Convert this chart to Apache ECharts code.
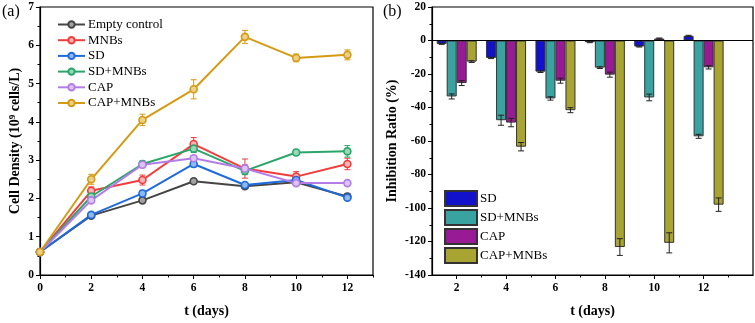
<!DOCTYPE html>
<html>
<head>
<meta charset="utf-8">
<script src="https://cdn.jsdelivr.net/npm/echarts@6/dist/echarts.min.js"></script>
<style>
  html, body { margin: 0; padding: 0; background: #fff; }
  #chart { width: 755px; height: 323px; }
</style>
</head>
<body>
<div id="chart"></div>
<script>
// (a) cell density over time
var days = [0, 2, 4, 6, 8, 10, 12];
var lineNames = ["Empty control", "MNBs", "SD", "SD+MNBs", "CAP", "CAP+MNBs"];
var lineColors = ["#454545", "#f03c3c", "#1f6bdc", "#2aa66a", "#b57ce8", "#d49a12"];
var lineFills = ["#a0a0a0", "#f8b4b4", "#8fb8f0", "#98d8b8", "#dcc4f6", "#ecd08a"];
var emptyControl = [0.6, 1.55, 1.95, 2.45, 2.32, 2.42, 2.05];
var mnbs = [0.6, 2.2, 2.48, 3.42, 2.78, 2.57, 2.9];
var sd = [0.6, 1.57, 2.13, 2.9, 2.35, 2.48, 2.02];
var sdMnbs = [0.6, 2.05, 2.9, 3.3, 2.72, 3.2, 3.23];
var cap = [0.6, 1.95, 2.88, 3.05, 2.78, 2.4, 2.4];
var capMnbs = [0.6, 2.5, 4.05, 4.85, 6.22, 5.67, 5.75];
var emptyControlErr = [0.02, 0.05, 0.07, 0.05, 0.05, 0.05, 0.08];
var mnbsErr = [0.02, 0.1, 0.13, 0.17, 0.25, 0.13, 0.15];
var sdErr = [0.02, 0.05, 0.08, 0.08, 0.06, 0.05, 0.05];
var sdMnbsErr = [0.02, 0.08, 0.08, 0.1, 0.1, 0.08, 0.15];
var capErr = [0.02, 0.06, 0.08, 0.07, 0.1, 0.06, 0.04];
var capMnbsErr = [0.02, 0.13, 0.15, 0.25, 0.17, 0.1, 0.13];

// (b) inhibition ratio
var barDays = [2, 4, 6, 8, 10, 12];
var barNames = ["SD", "SD+MNBs", "CAP", "CAP+MNBs"];
var barColors = ["#1212cc", "#38a3a1", "#981a94", "#a8a432"];
var sdInh = [-2, -10.4, -18.6, -1, -3.6, 2.8];
var sdMnbsInh = [-33.4, -47.6, -34.6, -16.2, -34, -57.2];
var capInh = [-25.4, -49, -24, -20.4, 1.2, -16];
var capMnbsInh = [-12.6, -63.4, -41.6, -123.3, -120.8, -98];
var sdInhErr = [0.3, 0.4, 0.5, 0.3, 0.3, 0.3];
var sdMnbsInhErr = [1.5, 3, 1, 0.5, 2, 1.2];
var capInhErr = [1.5, 2.5, 1.5, 1.5, 0.3, 1];
var capMnbsInhErr = [0.5, 2.5, 1.5, 5, 6, 4];

var xEvenLeft = [0, 2, 4, 6, 8, 10, 12];
var xOddLeft = [1, 3, 5, 7, 9, 11, 13];
var xEvenRight = [2, 4, 6, 8, 10, 12];
var xOddRight = [3, 5, 7, 9, 11, 13];

var lineValues = [emptyControl, mnbs, sd, sdMnbs, cap, capMnbs];
var lineErrs = [emptyControlErr, mnbsErr, sdErr, sdMnbsErr, capErr, capMnbsErr];
var barValues = [sdInh, sdMnbsInh, capInh, capMnbsInh];
var barErrs = [sdInhErr, sdMnbsInhErr, capInhErr, capMnbsInhErr];

var serif = "Liberation Serif";
var BAR_W = 10;

function errorBars(xs, ys, errs, color, axisIdx, offsetPx) {
  return {
    type: "custom",
    xAxisIndex: axisIdx,
    yAxisIndex: axisIdx,
    silent: true,
    z: 4,
    data: xs.map(function(x, i) {
      return [x, ys[i] - errs[i], ys[i] + errs[i]];
    }),
    renderItem: function(params, api) {
      var lo = api.coord([api.value(0), api.value(1)]);
      var hi = api.coord([api.value(0), api.value(2)]);
      var x = lo[0] + offsetPx;
      var w = 3;
      var style = { stroke: color, lineWidth: 1 };
      return {
        type: "group",
        children: [
          { type: "line", shape: { x1: x, y1: lo[1], x2: x, y2: hi[1] }, style: style },
          { type: "line", shape: { x1: x - w, y1: lo[1], x2: x + w, y2: lo[1] }, style: style },
          { type: "line", shape: { x1: x - w, y1: hi[1], x2: x + w, y2: hi[1] }, style: style }
        ]
      };
    }
  };
}

function xAxisPair(gridIndex, min, max, evens, odds) {
  var labelStyle = { fontFamily: serif, fontWeight: "bold", fontSize: 11.5, color: "#000", margin: 7 };
  return [
    {
      type: "value", gridIndex: gridIndex, min: min, max: max, interval: 1,
      name: "t (days)", nameLocation: "middle", nameGap: 29,
      nameTextStyle: { fontFamily: serif, fontWeight: "bold", fontSize: 14, color: "#000" },
      axisLine: { onZero: false, lineStyle: { color: "#000", width: 1.2 } },
      axisTick: { customValues: evens, length: 4, lineStyle: { color: "#000", width: 1 } },
      axisLabel: Object.assign({ customValues: evens }, labelStyle),
      splitLine: { show: false }
    },
    {
      type: "value", gridIndex: gridIndex, min: min, max: max, interval: 1, position: "bottom",
      axisLine: { show: false, onZero: false },
      axisTick: { customValues: odds, length: 2.5, lineStyle: { color: "#000", width: 1 } },
      axisLabel: { show: false },
      splitLine: { show: false }
    }
  ];
}

var xAxes = xAxisPair(0, 0, 13, xEvenLeft, xOddLeft).concat(xAxisPair(1, 1, 14, xEvenRight, xOddRight));

function yAxis(gridIndex, min, max, interval, name, gap) {
  return {
    type: "value", gridIndex: gridIndex, min: min, max: max, interval: interval,
    name: name, nameLocation: "middle", nameGap: gap,
    nameTextStyle: {
      fontFamily: serif, fontWeight: "bold", fontSize: 14, color: "#000",
      rich: { sup: { fontFamily: serif, fontWeight: "bold", fontSize: 9, verticalAlign: "top", padding: [0, 0, 6, 0] } }
    },
    axisLine: { show: true, onZero: false, lineStyle: { color: "#000", width: 1.2 } },
    axisTick: { show: true, length: 4, lineStyle: { color: "#000" } },
    minorTick: { show: true, splitNumber: 2, length: 2.5, lineStyle: { color: "#000" } },
    axisLabel: { fontFamily: serif, fontWeight: "bold", fontSize: 11.5, color: "#000", margin: 6 },
    splitLine: { show: false }
  };
}

var series = [];
lineNames.forEach(function(name, k) {
  series.push({
    type: "line", name: name, xAxisIndex: 0, yAxisIndex: 0, z: 3,
    data: days.map(function(d, i) { return [d, lineValues[k][i]]; }),
    symbol: "circle", symbolSize: 7, showSymbol: true,
    lineStyle: { color: lineColors[k], width: 2 },
    itemStyle: { color: lineFills[k], borderColor: lineColors[k], borderWidth: 1.6 }
  });
});
lineNames.forEach(function(name, k) {
  var s = errorBars(days, lineValues[k], lineErrs[k], lineColors[k], 0, 0);
  s.z = 2;
  series.push(s);
});
barNames.forEach(function(name, k) {
  var s = {
    type: "bar", name: "bar:" + name, xAxisIndex: 2, yAxisIndex: 1,
    data: barDays.map(function(d, i) { return [d, barValues[k][i]]; }),
    barWidth: BAR_W, barGap: "0%",
    itemStyle: { color: barColors[k], borderColor: "#333", borderWidth: 1 }
  };
  if (k === 0) {
    s.markLine = {
      silent: true, symbol: "none", label: { show: false },
      lineStyle: { color: "#000", width: 1, type: "solid" },
      data: [{ yAxis: 0 }]
    };
  }
  series.push(s);
});
barNames.forEach(function(name, k) {
  var s = errorBars(barDays, barValues[k], barErrs[k], "#222", 1, (k - 1.5) * BAR_W);
  s.xAxisIndex = 2;
  s.yAxisIndex = 1;
  series.push(s);
});

var chart = echarts.init(document.getElementById("chart"));
chart.setOption({
  animation: false,
  backgroundColor: "#fff",
  grid: [
    { left: 40, top: 7, width: 333, height: 268, show: true, borderColor: "#000", borderWidth: 1.2, backgroundColor: "transparent" },
    { left: 432, top: 7, width: 321, height: 268, show: true, borderColor: "#000", borderWidth: 1.2, backgroundColor: "transparent" }
  ],
  legend: [
    {
      data: lineNames, orient: "vertical", left: 52, top: 13, itemGap: 2.7,
      itemWidth: 27, itemHeight: 8,
      textStyle: { fontFamily: serif, fontSize: 13, color: "#000", padding: [0, 0, 0, -2] }
    },
    {
      data: barNames.map(function(n) { return "bar:" + n; }),
      formatter: function(n) { return n.replace("bar:", ""); },
      icon: "rect",
      orient: "vertical", left: 439, top: 185, itemGap: 2,
      itemWidth: 32, itemHeight: 15,
      textStyle: { fontFamily: serif, fontSize: 13, color: "#000", padding: [0, 0, 0, -2] }
    }
  ],
  graphic: [
    { type: "text", left: 2, top: 4, style: { text: "(a)", font: "16px 'Liberation Serif'", fill: "#000" } },
    { type: "text", left: 383, top: 4, style: { text: "(b)", font: "16px 'Liberation Serif'", fill: "#000" } }
  ],
  xAxis: xAxes,
  yAxis: [
    yAxis(0, 0, 7, 1, "Cell Density (10{sup|9} cells/L)", 17),
    yAxis(1, -140, 20, 20, "Inhibition Ratio (%)", 33)
  ],
  series: series
});
</script>
</body>
</html>
